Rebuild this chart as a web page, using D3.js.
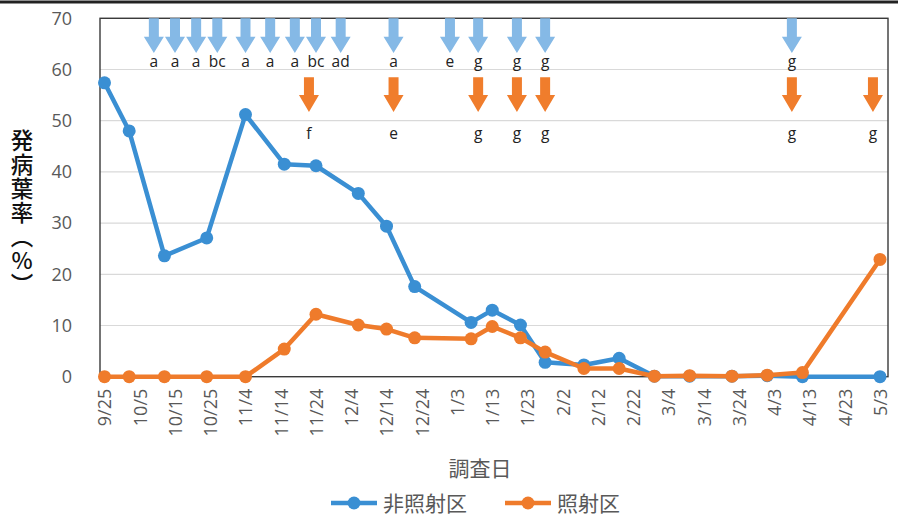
<!DOCTYPE html>
<html>
<head>
<meta charset="utf-8">
<script src="https://cdn.jsdelivr.net/npm/d3@7"></script>
<style>
  body { margin: 0; background: #fff; }
  svg { display: block; }
</style>
</head>
<body>
<div id="chart"></div>
<script>
var width = 898
var height = 517
var plot = { left: 100, right: 888, top: 18.3, bottom: 376.7 };

// survey dates and disease rate (%)
var surveyDates = ["2016-09-25", "2016-10-02", "2016-10-12", "2016-10-24", "2016-11-04", "2016-11-15",
    "2016-11-24", "2016-12-06", "2016-12-14", "2016-12-22", "2017-01-07", "2017-01-13", "2017-01-21",
    "2017-01-28", "2017-02-08", "2017-02-18", "2017-02-28", "2017-03-10", "2017-03-22", "2017-04-01",
    "2017-04-11", "2017-05-03"];
var nonIrradiated = [57.4, 48.0, 23.6, 27.1, 51.2, 41.5, 41.2, 35.8, 29.4, 17.6, 10.6, 13.0, 10.1,
    2.8, 2.3, 3.6, 0.1, 0.1, 0.1, 0.2, 0.0, 0.0];
var irradiated = [0, 0, 0, 0, 0, 5.4, 12.2, 10.1, 9.3, 7.6, 7.4, 9.8, 7.6,
    4.8, 1.6, 1.6, 0.1, 0.2, 0.1, 0.3, 0.8, 22.9];

// treatment arrows (date + letter)
var blueArrowDates = ["2016-10-09", "2016-10-15", "2016-10-21", "2016-10-27", "2016-11-04", "2016-11-11",
    "2016-11-18", "2016-11-24", "2016-12-01", "2016-12-16", "2017-01-01", "2017-01-09", "2017-01-20",
    "2017-01-28", "2017-04-08"];
var blueArrowLabels = ["a", "a", "a", "bc", "a", "a", "a", "bc", "ad", "a", "e", "g", "g", "g", "g"];
var orangeArrowDates = ["2016-11-22", "2016-12-16", "2017-01-09", "2017-01-20", "2017-01-28",
    "2017-04-08", "2017-05-01"];
var orangeArrowLabels = ["f", "e", "g", "g", "g", "g", "g"];

// x axis ticks
var tickDates = ["2016-09-25", "2016-10-05", "2016-10-15", "2016-10-25", "2016-11-04", "2016-11-14",
    "2016-11-24", "2016-12-04", "2016-12-14", "2016-12-24", "2017-01-03", "2017-01-13", "2017-01-23",
    "2017-02-02", "2017-02-12", "2017-02-22", "2017-03-04", "2017-03-14", "2017-03-24", "2017-04-03",
    "2017-04-13", "2017-04-23", "2017-05-03"];
var tickLabels = ["9/25", "10/5", "10/15", "10/25", "11/4", "11/14", "11/24", "12/4", "12/14", "12/24",
    "1/3", "1/13", "1/23", "2/2", "2/12", "2/22", "3/4", "3/14", "3/24", "4/3", "4/13", "4/23", "5/3"];
var yTicks = [0, 10, 20, 30, 40, 50, 60, 70];

var seriesNames = ["非照射区", "照射区"];
var colors = ["#3a8fd3", "#ef7b2b"];
var arrowColors = ["#85b9e6", "#f07d2c"];

var parse = d3.timeParse("%Y-%m-%d");
var numFont = "'Open Sans', 'Noto Sans', sans-serif";
var cjkFont = "'Noto Sans CJK JP', sans-serif";

var svg = d3.select("#chart").append("svg")
    .attr("width", width)
    .attr("height", height);

svg.append("rect").attr("width", width).attr("height", height).attr("fill", "#fff");

// top rule of the figure
svg.append("line")
    .attr("x1", 0).attr("x2", width)
    .attr("y1", 2).attr("y2", 2)
    .attr("stroke", "#222").attr("stroke-width", 3);

var xScale = d3.scaleTime()
    .domain([parse(tickDates[0]), parse(tickDates[tickDates.length - 1])])
    .range([104.5, 880]);

var yScale = d3.scaleLinear()
    .domain([0, 70])
    .range([plot.bottom, plot.top]);

// gridlines
svg.append("g")
    .selectAll("line")
    .data(yTicks.slice(1))
    .join("line")
    .attr("x1", plot.left).attr("x2", plot.right)
    .attr("y1", function(d) { return yScale(d); })
    .attr("y2", function(d) { return yScale(d); })
    .attr("stroke", "#d9d9d9")
    .attr("stroke-width", 1.2);

// plot frame
svg.append("rect")
    .attr("x", plot.left).attr("y", plot.top)
    .attr("width", plot.right - plot.left)
    .attr("height", plot.bottom - plot.top)
    .attr("fill", "none")
    .attr("stroke", "#3a3a3a")
    .attr("stroke-width", 1.4);

// y axis
var yAxis = svg.append("g")
    .attr("transform", "translate(" + plot.left + ",0)")
    .call(d3.axisLeft(yScale).tickValues(yTicks).tickSize(0).tickPadding(28));
yAxis.select(".domain").remove();
yAxis.selectAll("text")
    .attr("fill", "#595959")
    .style("font-family", numFont)
    .style("font-size", "18px");

// x axis
var xAxis = svg.append("g")
    .attr("transform", "translate(0," + plot.bottom + ")")
    .call(d3.axisBottom(xScale)
        .tickValues(tickDates.map(parse))
        .tickFormat(function(_d, i) { return tickLabels[i]; })
        .tickSize(0));
xAxis.select(".domain").remove();
xAxis.selectAll("text")
    .attr("transform", "rotate(-90)")
    .attr("x", -12)
    .attr("y", 0)
    .attr("dy", "0.35em")
    .style("text-anchor", "end")
    .attr("fill", "#595959")
    .style("font-family", numFont)
    .style("font-size", "18px");

// axis titles
svg.append("text")
    .attr("x", 22)
    .attr("y", 129)
    .style("writing-mode", "vertical-rl")
    .style("text-orientation", "upright")
    .style("letter-spacing", "1.5px")
    .style("font-family", cjkFont)
    .style("font-size", "22.5px")
    .style("font-weight", "500")
    .attr("fill", "#111")
    .text("発病葉率（%）");

svg.append("text")
    .attr("x", 480)
    .attr("y", 476)
    .attr("text-anchor", "middle")
    .style("font-family", cjkFont)
    .style("font-size", "21px")
    .attr("fill", "#595959")
    .text("調査日");

// arrows
function drawArrows(dates, labels, color, top, shaftEnd, tip, labelY, shaftW, headW) {
    var g = svg.append("g");
    dates.forEach(function(ds, i) {
        var cx = xScale(parse(ds));
        var sw = shaftW / 2, hw = headW / 2;
        var pts = [[cx - sw, top], [cx + sw, top], [cx + sw, shaftEnd], [cx + hw, shaftEnd],
            [cx, tip], [cx - hw, shaftEnd], [cx - sw, shaftEnd]];
        g.append("polygon")
            .attr("points", pts.map(function(p) { return p.join(","); }).join(" "))
            .attr("fill", color);
        g.append("text")
            .attr("x", cx)
            .attr("y", labelY)
            .attr("text-anchor", "middle")
            .style("font-family", numFont)
            .style("font-size", "15.5px")
            .attr("fill", "#222")
            .text(labels[i]);
    });
}

drawArrows(blueArrowDates, blueArrowLabels, arrowColors[0],
    yScale(70), yScale(66.4), yScale(63.2), yScale(61.4) + 5, 10, 20);
drawArrows(orangeArrowDates, orangeArrowLabels, arrowColors[1],
    yScale(58.5), yScale(55.0), yScale(51.7), yScale(47.5) + 5, 10, 20);

// lines and markers
var line = d3.line()
    .x(function(d) { return xScale(d.date); })
    .y(function(d) { return yScale(d.value); });

[nonIrradiated, irradiated].forEach(function(values, k) {
    var pts = values.map(function(v, i) { return { date: parse(surveyDates[i]), value: v }; });
    svg.append("path")
        .datum(pts)
        .attr("fill", "none")
        .attr("stroke", colors[k])
        .attr("stroke-width", 4.5)
        .attr("stroke-linejoin", "round")
        .attr("d", line);
    svg.append("g")
        .selectAll("circle")
        .data(pts)
        .join("circle")
        .attr("cx", function(d) { return xScale(d.date); })
        .attr("cy", function(d) { return yScale(d.value); })
        .attr("r", 6.5)
        .attr("fill", colors[k]);
});

// legend
var legendX = [331, 505];
seriesNames.forEach(function(name, k) {
    var g = svg.append("g").attr("transform", "translate(" + legendX[k] + ",503)");
    g.append("line")
        .attr("x1", 0).attr("x2", 46)
        .attr("stroke", colors[k]).attr("stroke-width", 4.5);
    g.append("circle").attr("cx", 23).attr("r", 6.5).attr("fill", colors[k]);
    g.append("text")
        .attr("x", 52)
        .attr("dy", "0.36em")
        .style("font-family", cjkFont)
        .style("font-size", "21px")
        .attr("fill", "#595959")
        .text(name);
});
</script>
</body>
</html>
